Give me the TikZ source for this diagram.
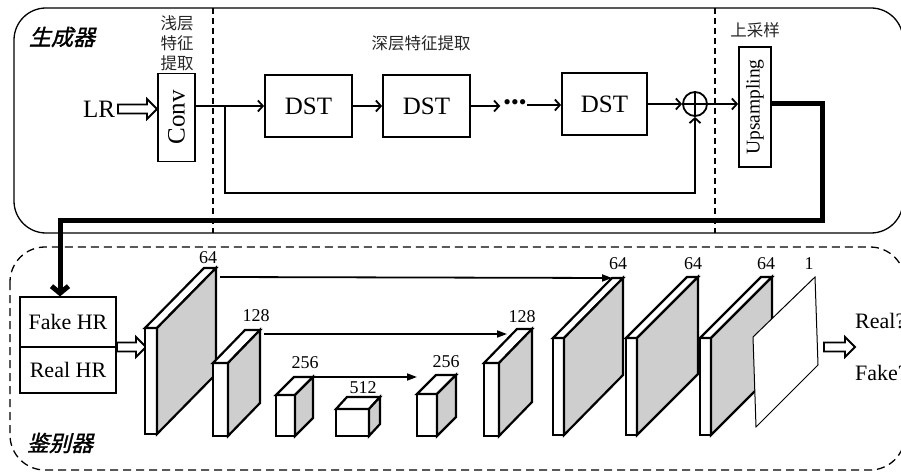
\documentclass[tikz,border=0pt]{standalone}
\usepackage{fontspec}
\setmainfont{Liberation Serif}
\newfontfamily\cjk{Noto Sans CJK SC}
\newfontfamily\cjkit[FakeSlant=0.25,FakeBold=1.5]{Noto Sans CJK SC}
\usetikzlibrary{arrows.meta,calc}
\definecolor{slabgray}{RGB}{206,206,206}
\tikzset{
  box/.style={draw, line width=1.8pt, inner sep=0pt},
  txt/.style={inner sep=0pt, font=\fontsize{22}{24}\selectfont},
  bigtxt/.style={inner sep=0pt, font=\fontsize{25}{27}\selectfont},
  dsttxt/.style={font=\fontsize{25}{27}\selectfont},
  numtxt/.style={inner sep=0pt, font=\fontsize{18}{20}\selectfont},
  cjklbl/.style={inner sep=0pt, align=center, text=black!85, font=\cjk\fontsize{16.5}{20}\selectfont},
  cjktitle/.style={inner sep=0pt, font=\cjkit\fontsize{22}{24}\selectfont},
  garrow/.style={line width=1.8pt, -{Straight Barb[length=5pt,width=11pt]}},
  darrow/.style={line width=1.8pt, -{Triangle[length=10pt,width=7pt]}},
  vdash/.style={line width=1.1pt, dash pattern=on 6pt off 4pt},
  slabline/.style={line width=2.2pt, line join=miter},
  pics/hollowarr/.style={code={
    \draw[line width=1.8pt, fill=white, line join=miter]
      (0,-4.5) -- (#1-10,-4.5) -- (#1-10,-10) -- (#1,0) -- (#1-10,10) -- (#1-10,4.5) -- (0,4.5) -- cycle;}}
}
% name, x1, x2, ytop, ybot, dx, dy
\newcommand{\drawslab}[7]{%
  \draw[slabline, fill=white] (#2,#4) rectangle (#3,#5);
  \draw[slabline, fill=white] (#2,#4) -- ++(#6,#7) -- ++(#3-#2,0) -- (#3,#4) -- cycle;
  \draw[slabline, fill=slabgray] (#3,#4) -- ++(#6,#7) -- ++(0,#5-#4) -- (#3,#5) -- cycle;
  \path (#2,#4) ++(#6,#7) coordinate (#1tl) ++(#3-#2,0) coordinate (#1tr);
}
\begin{document}
\begin{tikzpicture}[x=1pt,y=-1pt]
\useasboundingbox (0,0) rectangle (901,473);

% ---------------- Generator ----------------
\draw[line width=1.3pt, rounded corners=32pt] (14,8) rectangle (903,233);
\draw[vdash] (213,8) -- (213,233);
\draw[vdash] (715,8) -- (715,233);

\node[cjktitle] (gen) at (62,37) {生成器};
\node[cjklbl] (shallow) at (177,43) {浅层\\特征\\提取};
\node[cjklbl] (deep) at (421,43) {深层特征提取};
\node[cjklbl] (upl) at (755,30) {上采样};

\node[bigtxt] (lr) at (99,109) {LR};
\path (118,109) pic {hollowarr=39};

\node[box, minimum width=37pt, minimum height=88pt] (conv) at (176.5,117.5) {};
\node[bigtxt, rotate=90] (convt) at (conv) {Conv};

\node[box, dsttxt, minimum width=87pt, minimum height=62pt] (dst1) at (308.5,106) {DST};
\node[box, dsttxt, minimum width=87pt, minimum height=62pt] (dst2) at (426.5,106) {DST};
\node[inner sep=0pt, font=\fontsize{22}{22}\selectfont] (dots) at (515,105) {•••};
\node[box, dsttxt, minimum width=85pt, minimum height=62pt] (dst3) at (604.5,104) {DST};
\node[circle, draw, line width=1.8pt, minimum size=24pt, inner sep=0pt] (plus) at (695,104) {};
\draw[line width=1.8pt] (plus.north) -- (plus.south) (plus.west) -- (plus.east);

\node[box, minimum width=32pt, minimum height=120pt] (ups) at (755,107) {};
\node[inner sep=0pt, rotate=90, font=\fontsize{19.5}{21}\selectfont] (upst) at (ups) {Upsampling};

\draw[garrow] (conv.east |- dst1.west) -- (dst1.west);
\coordinate (br) at (225,106);
\draw[garrow, line join=miter] (br) -- (225,193) -| (plus.south);
\draw[garrow] (dst1.east) -- (dst2.west);
\draw[garrow, shorten >=3pt] (dst2.east) -- (dots.west |- dst2.east);
\draw[garrow] (dots.east) -- (dst3.west |- dots.east);
\draw[garrow] (dst3.east) -- (plus.west);
\draw[garrow] (plus.east) -- (ups.west |- plus.east);

\coordinate (tk1) at (822,104);
\coordinate (tk2) at (822,220);
\coordinate (tk3) at (60,220);

% ---------------- Discriminator ----------------
\draw[line width=1.3pt, dash pattern=on 8pt off 5pt, rounded corners=35pt] (10,247) rectangle (905,470);
\node[cjktitle] (dis) at (60,443) {鉴别器};

\node[draw, line width=1.2pt, minimum width=96pt, minimum height=50pt, inner sep=0pt, txt] (fake) at (68,322) {Fake HR};
\node[draw, line width=1.2pt, minimum width=96pt, minimum height=46pt, inner sep=0pt, txt] (real) at (68,370) {Real HR};

\draw[line width=5pt, line join=miter, -{Straight Barb[length=7pt,width=17pt]}]
  (ups.east |- plus.east) -- (tk1) -- (tk2) -- (tk3) -- (tk3 |- fake.north);

\path (117,347) pic {hollowarr=29};

\drawslab{b1}{145}{157}{328}{434}{59}{-60}
\drawslab{b2}{213}{228}{363}{436}{32}{-33}
\drawslab{b3}{276}{295}{395}{436}{18}{-18}
\drawslab{b4}{336}{369}{409}{436}{11}{-12}
\drawslab{b5}{417}{437}{394}{436}{19}{-19}
\drawslab{b6}{484}{499}{363}{436}{33}{-34}
\drawslab{b7}{553}{564}{338}{435}{59}{-60}
\drawslab{b8}{626}{637}{338}{435}{61}{-61}
\drawslab{b9}{700}{711}{338}{435}{61}{-61}
\draw[line width=1pt, fill=white] (753,337) -- (815,277) -- (818,365) -- (756,427) -- cycle;
\coordinate (outp) at (815,277);

\node[numtxt] (l1) at (208,258) {64};
\node[numtxt] (l2) at (256,316) {128};
\node[numtxt] (l3) at (305,363) {256};
\node[numtxt] (l4) at (363,388) {512};
\node[numtxt] (l5) at (446,362) {256};
\node[numtxt] (l6) at (522,317) {128};
\node[numtxt] (l7) at (618,264) {64};
\node[numtxt] (l8) at (693,264) {64};
\node[numtxt] (l9) at (766,264) {64};
\node[numtxt] (l10) at (809,264) {1};

\draw[darrow] ($(b1tr)+(4,9)$) -- (b7tl);
\draw[darrow] ($(b2tr)+(4,4)$) -- ($(b6tl)+(-10,5)$);
\draw[darrow] (b3tr) -- ($(b5tl)+(-19,2)$);

\path (824,347) pic {hollowarr=31};
\node[txt, anchor=west] (realq) at (855,321) {Real?};
\node[txt, anchor=west] (fakeq) at (855,373) {Fake?};
\end{tikzpicture}
\end{document}
